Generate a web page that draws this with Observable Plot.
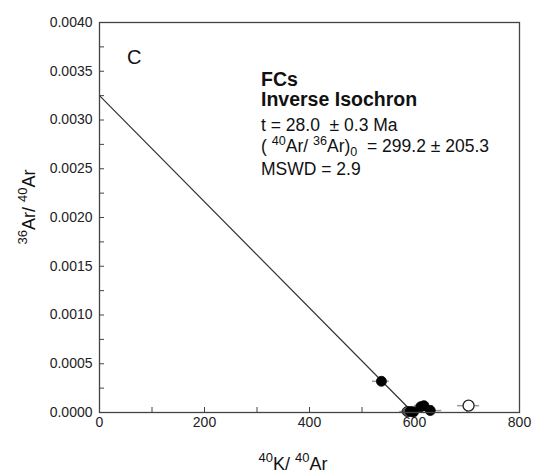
<!DOCTYPE html>
<html><head><meta charset="utf-8">
<script src="https://cdn.jsdelivr.net/npm/d3@7"></script>
<script src="https://cdn.jsdelivr.net/npm/@observablehq/plot@0.6"></script>
<style>
body{margin:0;background:#fff}
svg{font-family:"Liberation Sans",Arial,sans-serif}
</style>
</head><body><div id="chart"></div>
<script>
// ---- data ----
const xMajor = [0, 200, 400, 600, 800];
const xMinor = [100, 300, 500, 700];
const yMajor = [0, 0.0005, 0.0010, 0.0015, 0.0020, 0.0025, 0.0030, 0.0035, 0.0040];
const yMinor = [0.00025, 0.00075, 0.00125, 0.00175, 0.00225, 0.00275, 0.00325, 0.00375];

// filled (included) steps: 40K/40Ar, 36Ar/40Ar, error bar low/high on x
const stepX  = [537, 586, 592, 598, 612, 618, 630];
const stepY  = [0.00032, 0.00001, 0.00001, 0.000005, 0.00006, 0.00007, 0.00002];
const stepLo = [520, 572, 575, 580, 595, 600, 612];
const stepHi = [552, 600, 610, 616, 630, 636, 652];
const stepFill = ["#000", "#555", "#000", "#000", "#000", "#000", "#000"];

// open (excluded) step
const openX  = [703];
const openY  = [0.00007];
const openLo = [682];
const openHi = [724];

// isochron fit line
const fitX = [0, 597];
const fitY = [0.00325, 0];

// ---- build ----
const W = 535, H = 476, mL = 99, mR = 16, mT = 22, mB = 64;
const plotW = W - mL - mR, plotH = H - mT - mB;
const steps = stepX.map((x, i) => ({x, y: stepY[i], lo: stepLo[i], hi: stepHi[i], fill: stepFill[i]}));
const opens = openX.map((x, i) => ({x, y: openY[i], lo: openLo[i], hi: openHi[i]}));
const fit = fitX.map((x, i) => ({x, y: fitY[i]}));
const ink = "#444";

const svg = Plot.plot({
  width: W, height: H,
  marginLeft: mL, marginRight: mR, marginTop: mT, marginBottom: mB,
  style: {fontFamily: '"Liberation Sans", Arial, sans-serif', fontSize: "14px", color: "#222", background: "#fff"},
  x: {domain: [0, 800]},
  y: {domain: [0, 0.004]},
  marks: [
    Plot.tickX(xMajor.concat(xMinor), {x: d => d, insetTop: plotH - 5, stroke: ink}),
    Plot.tickY(yMajor.concat(yMinor), {y: d => d, insetRight: plotW - 5, stroke: ink}),
    Plot.axisX({ticks: xMajor, tickSize: 0, tickPadding: 5, label: null, fontSize: 14}),
    Plot.axisY({ticks: yMajor, tickSize: 0, tickPadding: 7, tickFormat: d3.format(".4f"), label: null, fontSize: 14}),
    Plot.line(fit, {x: "x", y: "y", stroke: "#333", strokeWidth: 1.2}),
    Plot.ruleY(steps, {y: "y", x1: "lo", x2: "hi", stroke: "#999", strokeWidth: 1.5}),
    Plot.ruleY(opens, {y: "y", x1: "lo", x2: "hi", stroke: "#999", strokeWidth: 1.5}),
    Plot.dot(steps, {x: "x", y: "y", r: 5, fill: "fill", stroke: "#000", strokeWidth: 0.8}),
    Plot.dot(opens, {x: "x", y: "y", r: 5.5, fill: "#fff", stroke: "#222", strokeWidth: 1.3}),
    Plot.frame({stroke: ink, strokeWidth: 1.3})
  ]
});
document.getElementById("chart").appendChild(svg);

// ---- text annotations (rich text with super/subscripts) ----
const root = d3.select(svg);
function rich(x, y, segs, opts = {}) {
  const size = opts.size || 15;
  const t = root.append("text")
    .attr("x", x).attr("y", y)
    .attr("font-size", size)
    .attr("font-weight", opts.weight || "normal")
    .attr("fill", "#111")
    .attr("text-anchor", opts.anchor || "start")
    .style("white-space", "pre");
  if (opts.rotate) t.attr("transform", `rotate(${opts.rotate},${x},${y})`);
  let shift = 0;
  for (const s of segs) {
    const str = typeof s === "string" ? s : s.t;
    const kind = typeof s === "string" ? null : s.k;
    let target = 0, fs = size;
    if (kind === "sup") { target = -0.42 * size; fs = size * 0.72; }
    if (kind === "sub") { target = 0.2 * size; fs = size * 0.72; }
    t.append("tspan").attr("dy", target - shift).attr("font-size", fs).text(str);
    shift = target;
  }
  return t;
}

rich(127, 64, ["C"], {size: 20});
rich(261, 86, ["FCs"], {size: 19.5, weight: "bold"});
rich(261, 106, ["Inverse Isochron"], {size: 19.5, weight: "bold"});
rich(261, 131, ["t = 28.0  \u00b1 0.3 Ma"], {size: 17.5});
rich(261, 152, ["( ", {t: "40", k: "sup"}, "Ar/ ", {t: "36", k: "sup"}, "Ar)", {t: "0", k: "sub"}, "  = 299.2 \u00b1 205.3"], {size: 17.5});
rich(261, 175, ["MSWD = 2.9"], {size: 17.5});

rich(293, 470, [{t: "40", k: "sup"}, "K/ ", {t: "40", k: "sup"}, "Ar"], {size: 18, anchor: "middle"});
rich(35, 207, [{t: "36", k: "sup"}, "Ar/ ", {t: "40", k: "sup"}, "Ar"], {size: 18, anchor: "middle", rotate: -90});
</script>
</body></html>
